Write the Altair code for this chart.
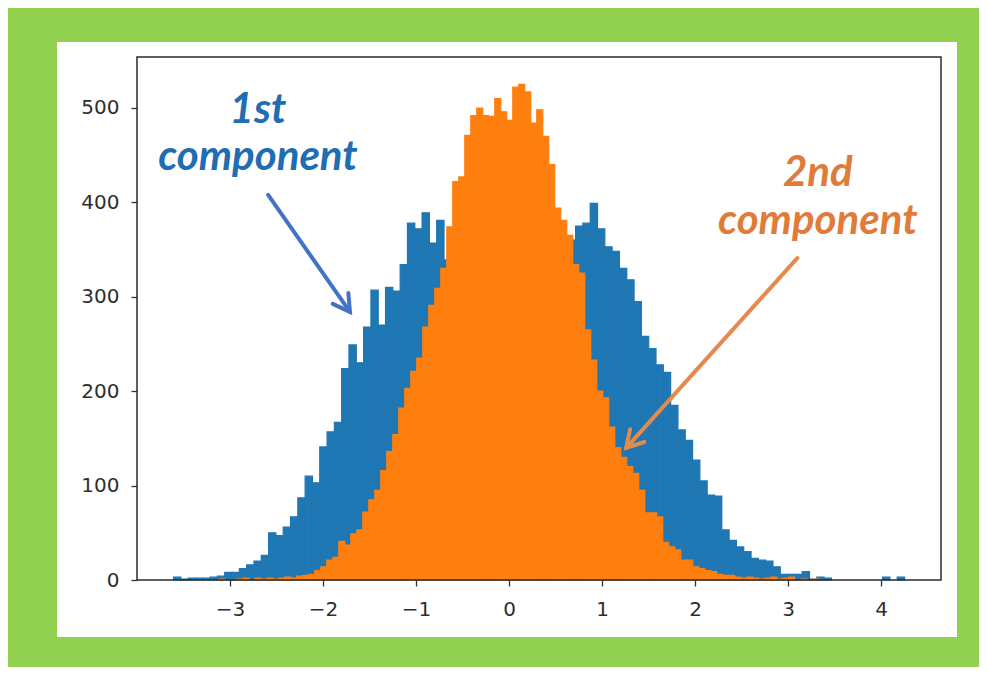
import math
import altair as alt
import pandas as pd

# ---- data ----
blue_counts = [
    3, 1, 2, 2, 2, 3, 4, 8, 8, 12, 16, 20, 26, 50, 47, 56, 67, 87, 110, 103,
    141, 157, 167, 224, 249, 230, 268, 307, 270, 310, 306, 334, 378, 372, 389, 357, 381, 339, 340, 330,
    320, 300, 285, 270, 262, 255, 250, 252, 258, 268, 280, 295, 315, 335, 360, 375, 378, 399, 372, 353,
    348, 330, 318, 295, 258, 245, 228, 220, 185, 159, 148, 127, 105, 90, 89, 53, 42, 35, 30, 23,
    21, 20, 14, 6, 6, 6, 9, 1, 3, 2, 0, 0, 0, 0, 0, 0, 0, 3, 0, 3,
]
orange_counts = [
    1, 0, 0, 1, 2, 0, 2, 1, 2, 1, 2, 3, 2, 4, 5, 6, 10, 14, 21, 24,
    41, 37, 49, 53, 72, 85, 95, 116, 136, 154, 182, 203, 221, 235, 268, 291, 309, 330, 374, 422,
    427, 471, 492, 500, 492, 491, 510, 496, 487, 522, 525, 517, 484, 498, 470, 440, 394, 381, 365, 334,
    325, 265, 233, 200, 193, 162, 140, 130, 120, 113, 95, 71, 71, 67, 40, 35, 32, 21, 21, 14,
    12, 10, 9, 6, 5, 5, 3, 2, 3, 2, 1, 2, 3, 1, 2, 3, 0, 1, 0, 1,
]
BLUE_START, BLUE_WIDTH = -3.607, 0.0786
ORANGE_START, ORANGE_WIDTH = -3.12, 0.0645

x_ticks = [-3, -2, -1, 0, 1, 2, 3, 4]
y_ticks = [0, 100, 200, 300, 400, 500]

# annotation texts (data coordinates)
label_text = ["1st", "component", "2nd", "component"]
label_x = [-2.70, -2.70, 3.32, 3.32]
label_y = [484, 434, 417, 367]
label_color = ["#1f6db3", "#1f6db3", "#e07b39", "#e07b39"]

# arrows: start -> end (data coordinates)
arrow_x = [-2.59, 3.10]
arrow_y = [408, 341]
arrow_x2 = [-1.71, 1.26]
arrow_y2 = [284, 140]
arrow_color = ["#4472c4", "#e38a4c"]

W, H = 804, 523
X_DOMAIN = [-4.0, 4.645]
Y_DOMAIN = [0, 554]
PX_X = W / (X_DOMAIN[1] - X_DOMAIN[0])
PX_Y = H / (Y_DOMAIN[1] - Y_DOMAIN[0])


def hist_df(counts, start, width):
    df = pd.DataFrame({
        "x0": [start + i * width for i in range(len(counts))],
        "x1": [start + (i + 1) * width for i in range(len(counts))],
        "count": counts,
    })
    return df[df["count"] > 0]


blue_df = hist_df(blue_counts, BLUE_START, BLUE_WIDTH)
orange_df = hist_df(orange_counts, ORANGE_START, ORANGE_WIDTH)

angles = []
for i in range(len(arrow_x)):
    dx = (arrow_x2[i] - arrow_x[i]) * PX_X
    dy = -(arrow_y2[i] - arrow_y[i]) * PX_Y
    angles.append(math.degrees(math.atan2(-dx, dy)) % 360)

arrows_df = pd.DataFrame({
    "x": arrow_x, "y": arrow_y, "x2": arrow_x2, "y2": arrow_y2,
    "color": arrow_color, "angle": angles,
})
labels_df = pd.DataFrame({"x": label_x, "y": label_y, "text": label_text, "color": label_color})

xs = alt.Scale(domain=X_DOMAIN, nice=False, zero=False)
ys = alt.Scale(domain=Y_DOMAIN, nice=False, zero=False)

x_axis = alt.Axis(values=x_ticks, title=None, format="d", zindex=2, labelPadding=13)
y_axis = alt.Axis(values=y_ticks, title=None, format="d", zindex=2, labelPadding=12)

panel = alt.Chart(pd.DataFrame({"a": [0]})).mark_rect(fill="white").encode(
    x=alt.value(-80), x2=alt.value(820), y=alt.value(-15), y2=alt.value(580)
)

blue = alt.Chart(blue_df).mark_rect(color="#1f77b4", stroke="#1f77b4", strokeWidth=1.2).encode(
    x=alt.X("x0:Q", scale=xs, axis=x_axis),
    x2="x1:Q",
    y=alt.Y("count:Q", scale=ys, axis=y_axis),
    y2=alt.datum(0),
)
orange = alt.Chart(orange_df).mark_rect(color="#ff7f0e", stroke="#ff7f0e", strokeWidth=1.2).encode(
    x=alt.X("x0:Q", scale=xs, axis=x_axis), x2="x1:Q",
    y=alt.Y("count:Q", scale=ys, axis=y_axis), y2=alt.datum(0),
)

frame = alt.Chart(pd.DataFrame({"a": [0]})).mark_rect(
    fillOpacity=0, stroke="#2b2b2b", strokeWidth=1.5
).encode(x=alt.value(0), x2=alt.value(W), y=alt.value(0), y2=alt.value(H))

arrow_lines = alt.Chart(arrows_df).mark_rule(strokeWidth=4, strokeCap="round").encode(
    x=alt.X("x:Q", scale=xs, axis=x_axis), y=alt.Y("y:Q", scale=ys, axis=y_axis),
    x2="x2:Q", y2="y2:Q",
    color=alt.Color("color:N", scale=None),
)
arrow_heads = alt.Chart(arrows_df).mark_point(
    shape="M -0.55 -0.95 L 0 0 L 0.55 -0.95", filled=False, strokeWidth=4,
    size=1200, opacity=1, strokeCap="round", strokeJoin="miter",
).encode(
    x=alt.X("x2:Q", scale=xs, axis=x_axis), y=alt.Y("y2:Q", scale=ys, axis=y_axis),
    angle=alt.Angle("angle:Q", scale=None),
    color=alt.Color("color:N", scale=None),
)

labels = alt.Chart(labels_df).mark_text(
    font="Lato", fontStyle="italic", fontWeight="bold", fontSize=42,
    align="center", baseline="alphabetic",
).encode(
    x=alt.X("x:Q", scale=xs, axis=x_axis), y=alt.Y("y:Q", scale=ys, axis=y_axis),
    text="text:N", color=alt.Color("color:N", scale=None),
)

chart = alt.layer(panel, blue, orange, frame, arrow_lines, arrow_heads, labels).properties(
    width=W, height=H,
    autosize=alt.AutoSizeParams(type="none"),
    padding={"left": 129, "top": 49, "right": 38, "bottom": 87},
    background="#92d050",
).configure_view(strokeWidth=0).configure_axis(
    domain=False, grid=False,
    tickColor="#333333", tickSize=6, tickWidth=1.3,
    labelFont="DejaVu Sans", labelFontSize=20, labelColor="#2e2e2e",
)

chart.save("out.html", embed_options={"renderer": "svg", "actions": False})
